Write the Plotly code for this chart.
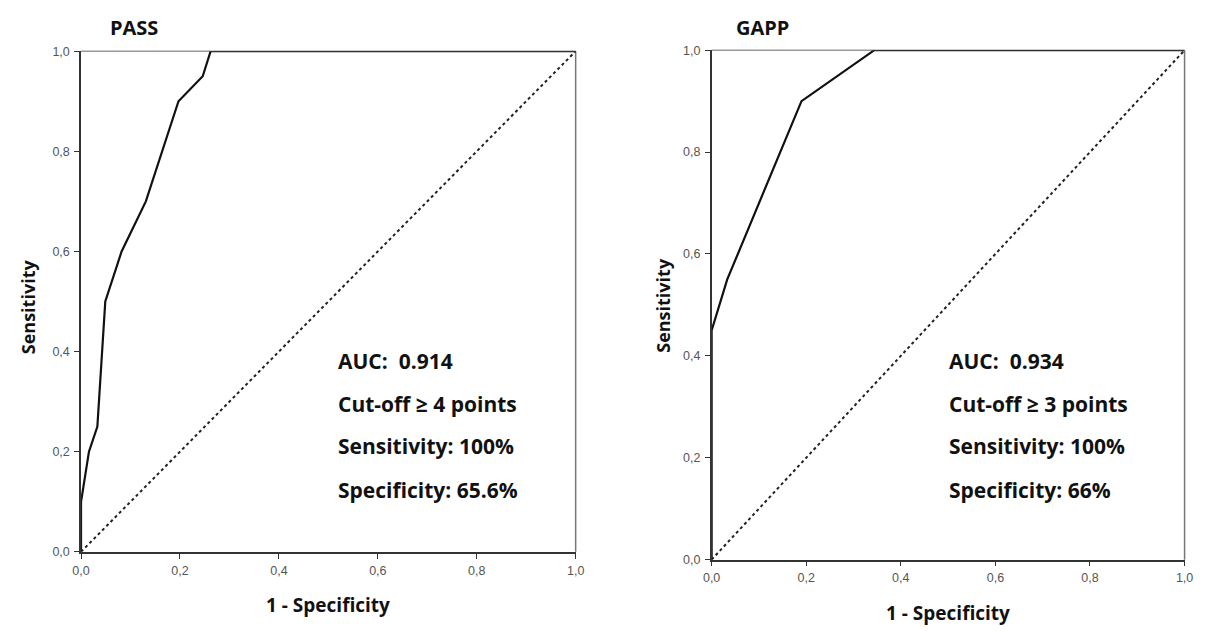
import plotly.graph_objects as go

W, H = 1224, 631
OFF = 8  # default page body margin in the browser

# ---- data ----
pass_fpr = [0.0, 0.0, 0.016, 0.033, 0.049, 0.082, 0.131, 0.197, 0.246, 0.262, 1.0]
pass_tpr = [0.0, 0.10, 0.20, 0.25, 0.50, 0.60, 0.70, 0.90, 0.95, 1.0, 1.0]
gapp_fpr = [0.0, 0.0, 0.033, 0.19, 0.344, 1.0]
gapp_tpr = [0.0, 0.45, 0.55, 0.90, 1.0, 1.0]
ref_line = [0.0, 1.0]
tick_vals = [0.0, 0.2, 0.4, 0.6, 0.8, 1.0]
tick_text = ["0,0", "0,2", "0,4", "0,6", "0,8", "1,0"]
titles = ["PASS", "GAPP"]
pass_notes = ["AUC:  0.914", "Cut-off \u2265 4 points", "Sensitivity: 100%", "Specificity: 65.6%"]
gapp_notes = ["AUC:  0.934", "Cut-off \u2265 3 points", "Sensitivity: 100%", "Specificity: 66%"]

# ---- layout geometry (target window pixels) ----
panels = [
    dict(x0=73, x1=575, y0=45, y1=557),
    dict(x0=713, x1=1193, y0=44, y1=565),
]

def px_x(p):
    return (p - OFF) / W

def px_y(p):
    return 1 - (p - OFF) / H

BOLD = "Open Sans"
fig = go.Figure()

fig.add_trace(go.Scatter(x=ref_line, y=ref_line, mode="lines", xaxis="x", yaxis="y",
                         line=dict(color="#222", width=2, dash="dot"), showlegend=False))
fig.add_trace(go.Scatter(x=pass_fpr, y=pass_tpr, mode="lines", xaxis="x", yaxis="y",
                         line=dict(color="#111", width=2.2), showlegend=False))
fig.add_trace(go.Scatter(x=ref_line, y=ref_line, mode="lines", xaxis="x2", yaxis="y2",
                         line=dict(color="#222", width=2, dash="dot"), showlegend=False))
fig.add_trace(go.Scatter(x=gapp_fpr, y=gapp_tpr, mode="lines", xaxis="x2", yaxis="y2",
                         line=dict(color="#111", width=2.2), showlegend=False))

axis_common = dict(range=[0, 1], tickvals=tick_vals, ticktext=tick_text, showgrid=False,
                   zeroline=False, showline=True, linecolor="#333", linewidth=1.5,
                   ticks="outside", ticklen=5, tickcolor="#333", tickwidth=1,
                   tickfont=dict(family="Liberation Sans", size=12.5, color="#555"))

layout = dict(width=W, height=H, margin=dict(l=0, r=0, t=0, b=0),
              plot_bgcolor="white", paper_bgcolor="white", showlegend=False)
for i, p in enumerate(panels):
    sfx = "" if i == 0 else str(i + 1)
    layout["xaxis" + sfx] = dict(axis_common, domain=[px_x(p["x0"]), px_x(p["x1"])],
                                 anchor="y" + sfx, ticklabelstandoff=1)
    layout["yaxis" + sfx] = dict(axis_common, domain=[px_y(p["y1"]), px_y(p["y0"])],
                                 anchor="x" + sfx, ticklabelstandoff=2)
fig.update_layout(**layout)

shapes = []
for i, p in enumerate(panels):
    sfx = "" if i == 0 else str(i + 1)
    xr, yr = "x" + sfx + " domain", "y" + sfx + " domain"
    shapes.append(dict(type="line", xref=xr, yref=yr, x0=0, x1=1, y0=1, y1=1,
                       line=dict(color="#999", width=1.5), layer="below"))
    shapes.append(dict(type="line", xref=xr, yref=yr, x0=1, x1=1, y0=0, y1=1,
                       line=dict(color="#777", width=1.5), layer="below"))
fig.update_layout(shapes=shapes)

ann = []
# panel titles
for t, cx in zip(titles, [127, 765]):
    ann.append(dict(text="<b>%s</b>" % t, x=px_x(cx), y=px_y(21), xref="paper", yref="paper",
                    showarrow=False, xanchor="center", yanchor="middle",
                    font=dict(family=BOLD, size=20, color="#111")))
# axis titles
for cx, cy in [(324, 611), (953, 620)]:
    ann.append(dict(text="<b>1 - Specificity</b>", x=px_x(cx), y=px_y(cy), xref="paper", yref="paper",
                    showarrow=False, xanchor="center", yanchor="middle",
                    font=dict(family=BOLD, size=19, color="#111")))
for cx, cy in [(20, 306), (664, 305)]:
    ann.append(dict(text="<b>Sensitivity</b>", x=px_x(cx), y=px_y(cy), xref="paper", yref="paper",
                    showarrow=False, xanchor="center", yanchor="middle", textangle=-90,
                    font=dict(family=BOLD, size=18, color="#111")))
# statistics notes
note_y = [362, 406, 449, 494]
for notes, lx in [(pass_notes, 332), (gapp_notes, 952)]:
    for t, yy in zip(notes, note_y):
        ann.append(dict(text="<b>%s</b>" % t, x=px_x(lx), y=px_y(yy), xref="paper", yref="paper",
                        showarrow=False, xanchor="left", yanchor="middle",
                        font=dict(family=BOLD, size=21, color="#111")))
fig.update_layout(annotations=ann)

fig.write_html("out.html")
